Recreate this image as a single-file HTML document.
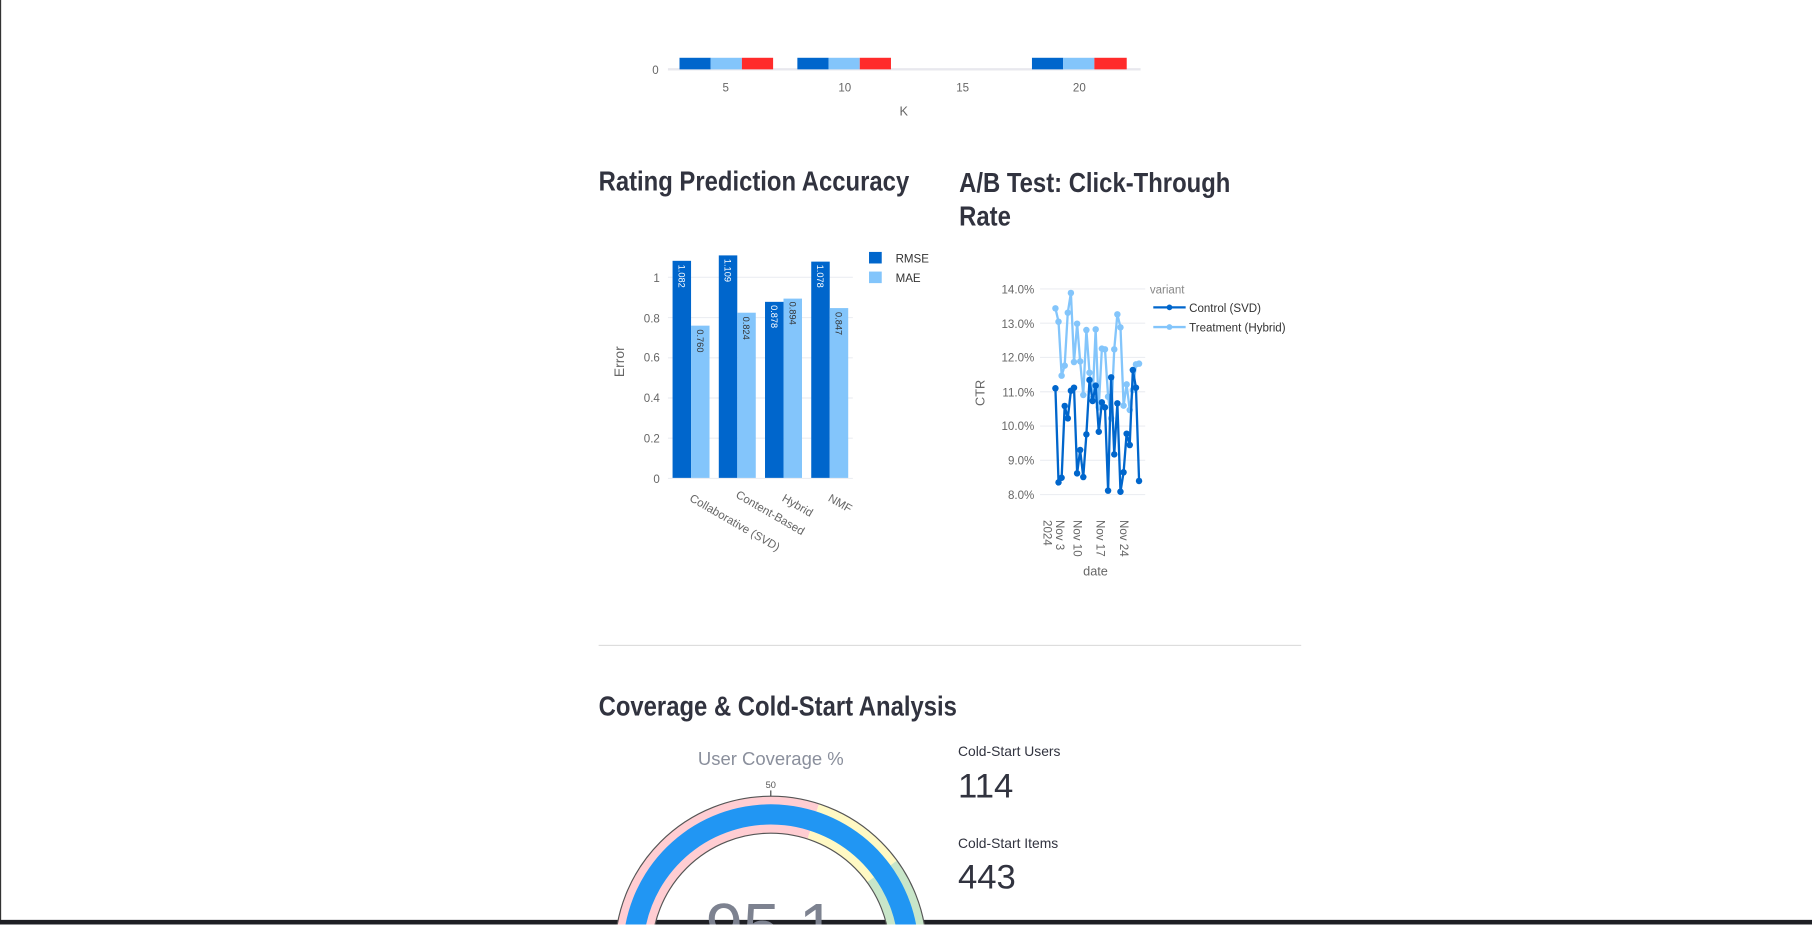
<!DOCTYPE html>
<html><head><meta charset="utf-8"><style>
html,body{margin:0;padding:0;background:#fff;overflow:hidden}
body{width:1812px;height:925px;position:relative}
#w{position:absolute;left:0;top:0;width:1568px;height:800px;transform:scale(1.15561);transform-origin:0 0;font-family:"Liberation Sans",sans-serif}
.t{position:absolute;font-weight:bold;color:#31333f;font-size:24px;white-space:nowrap;transform-origin:0 0;transform:scaleX(0.86)}
svg{position:absolute;left:0;top:0}
</style></head><body><div id="w">
<div style="position:absolute;left:0;top:0;width:1px;height:800px;background:#333"></div>
<div style="position:absolute;left:0;top:796px;width:1568px;height:4px;background:#1e1f24"></div>
<div class="t" style="left:518px;top:144px">Rating Prediction Accuracy</div>
<div class="t" style="left:830px;top:144px;line-height:29px">A/B Test: Click-Through<br>Rate</div>
<div class="t" style="left:518px;top:598px">Coverage &amp; Cold-Start Analysis</div>
<div style="position:absolute;left:518px;top:558px;width:608px;height:1px;background:#ddd"></div>
<div style="position:absolute;left:829px;top:643px;font-size:12px;color:#31333f">Cold-Start Users</div>
<div style="position:absolute;left:829px;top:664px;font-size:30px;color:#31333f">114</div>
<div style="position:absolute;left:829px;top:723px;font-size:12px;color:#31333f">Cold-Start Items</div>
<div style="position:absolute;left:829px;top:743px;font-size:30px;color:#31333f">443</div>
<svg width="1568" height="800" font-family="Liberation Sans, sans-serif">
<!-- top chart -->
<line x1="578" y1="60" x2="987" y2="60" stroke="#e8e8ee" stroke-width="2"/>
<text x="570" y="64" font-size="10" fill="#666" text-anchor="end">0</text>
<g>
<rect x="588" y="50" width="27" height="10" fill="#0066cc"/><rect x="615" y="50" width="27" height="10" fill="#83c5fb"/><rect x="642" y="50" width="27" height="10" fill="#ff2b2b"/>
<rect x="690" y="50" width="27" height="10" fill="#0066cc"/><rect x="717" y="50" width="27" height="10" fill="#83c5fb"/><rect x="744" y="50" width="27" height="10" fill="#ff2b2b"/>
<rect x="893" y="50" width="27" height="10" fill="#0066cc"/><rect x="920" y="50" width="27" height="10" fill="#83c5fb"/><rect x="947" y="50" width="28" height="10" fill="#ff2b2b"/>
</g>
<g font-size="10" fill="#666" text-anchor="middle"><text x="628" y="79">5</text><text x="731" y="79">10</text><text x="833" y="79">15</text><text x="934" y="79">20</text></g>
<text x="782" y="100" font-size="11" fill="#666" text-anchor="middle">K</text>
<!-- bar chart -->
<g stroke="#eceef2"><line x1="578" y1="379.2" x2="738" y2="379.2"/><line x1="578" y1="344.4" x2="738" y2="344.4"/><line x1="578" y1="309.6" x2="738" y2="309.6"/><line x1="578" y1="274.8" x2="738" y2="274.8"/><line x1="578" y1="240" x2="738" y2="240"/></g>
<g font-size="10" fill="#666" text-anchor="end"><text x="571" y="418">0</text><text x="571" y="383">0.2</text><text x="571" y="348">0.4</text><text x="571" y="313">0.6</text><text x="571" y="279">0.8</text><text x="571" y="244">1</text></g>
<text transform="translate(540,313) rotate(-90)" font-size="12" fill="#666" text-anchor="middle">Error</text>
<rect x="582" y="225.7" width="16" height="188.3" fill="#0066cc"/><rect x="598" y="281.8" width="16" height="132.2" fill="#83c5fb"/>
<rect x="622" y="221" width="16" height="193" fill="#0066cc"/><rect x="638" y="270.6" width="16" height="143.4" fill="#83c5fb"/>
<rect x="662" y="261.2" width="16" height="152.8" fill="#0066cc"/><rect x="678" y="258.4" width="16" height="155.6" fill="#83c5fb"/>
<rect x="702" y="226.4" width="16" height="187.6" fill="#0066cc"/><rect x="718" y="266.6" width="16" height="147.4" fill="#83c5fb"/>
<line x1="578" y1="414" x2="738" y2="414" stroke="#eceef2"/>
<g font-size="8">
<text transform="translate(587,229) rotate(90)" fill="#fff">1.082</text>
<text transform="translate(603,285) rotate(90)" fill="#333">0.760</text>
<text transform="translate(627,224) rotate(90)" fill="#fff">1.109</text>
<text transform="translate(643,274) rotate(90)" fill="#333">0.824</text>
<text transform="translate(667,264) rotate(90)" fill="#fff">0.878</text>
<text transform="translate(683,261) rotate(90)" fill="#333">0.894</text>
<text transform="translate(707,229) rotate(90)" fill="#fff">1.078</text>
<text transform="translate(723,270) rotate(90)" fill="#333">0.847</text>
</g>
<g font-size="10" fill="#666">
<text transform="translate(596,433) rotate(30)">Collaborative (SVD)</text>
<text transform="translate(636,430) rotate(30)">Content-Based</text>
<text transform="translate(676,433) rotate(30)">Hybrid</text>
<text transform="translate(716,433) rotate(30)">NMF</text>
</g>
<rect x="752" y="218" width="11" height="10" fill="#0066cc"/><text x="775" y="227" font-size="10" fill="#333">RMSE</text>
<rect x="752" y="235" width="11" height="10" fill="#83c5fb"/><text x="775" y="244" font-size="10" fill="#333">MAE</text>
<!-- line chart -->
<g stroke="#eceef2"><line x1="900" y1="428" x2="991" y2="428"/><line x1="900" y1="398.3" x2="991" y2="398.3"/><line x1="900" y1="368.7" x2="991" y2="368.7"/><line x1="900" y1="339" x2="991" y2="339"/><line x1="900" y1="309.3" x2="991" y2="309.3"/><line x1="900" y1="279.7" x2="991" y2="279.7"/><line x1="900" y1="250" x2="991" y2="250"/></g>
<g font-size="10" fill="#666" text-anchor="end"><text x="895" y="432">8.0%</text><text x="895" y="402">9.0%</text><text x="895" y="372">10.0%</text><text x="895" y="343">11.0%</text><text x="895" y="313">12.0%</text><text x="895" y="284">13.0%</text><text x="895" y="254">14.0%</text></g>
<text transform="translate(852,340) rotate(-90)" font-size="11" fill="#666" text-anchor="middle">CTR</text>
<g font-size="10" fill="#666">
<text transform="translate(903,450) rotate(90)">2024</text>
<text transform="translate(914,450) rotate(90)">Nov 3</text>
<text transform="translate(929,450) rotate(90)">Nov 10</text>
<text transform="translate(949,450) rotate(90)">Nov 17</text>
<text transform="translate(969,450) rotate(90)">Nov 24</text>
</g>
<text x="948" y="498" font-size="11" fill="#666" text-anchor="middle">date</text>
<text x="995" y="254" font-size="10" fill="#888">variant</text>
<line x1="998" y1="266" x2="1026" y2="266" stroke="#0066cc" stroke-width="2"/><circle cx="1012" cy="266" r="2.5" fill="#0066cc"/><text x="1029" y="270" font-size="10" fill="#333">Control (SVD)</text>
<line x1="998" y1="283" x2="1026" y2="283" stroke="#83c5fb" stroke-width="2"/><circle cx="1012" cy="283" r="2.5" fill="#83c5fb"/><text x="1029" y="287" font-size="10" fill="#333">Treatment (Hybrid)</text>
<g id="lines"></g>
<!-- gauge -->
<g transform="translate(667,824)">
<path d="M-135 0 A135 135 0 0 1 0 -135" fill="none" stroke="#ffcdd2" stroke-width="32" transform="scale(0.881)" />
</g>
<g id="gauge"></g>
<text x="667" y="662" font-size="16" fill="#8a8f9c" text-anchor="middle">User Coverage %</text>
<text x="667" y="682" font-size="8" fill="#555" text-anchor="middle">50</text>
<line x1="667" y1="684" x2="667" y2="689" stroke="#444"/>
<text x="667" y="822" font-size="58" fill="#7d8290" text-anchor="middle">95.1</text>
</svg>
</div>
<script>
var T=[266.8,278.4,325.1,316.4,270.6,253.5,313.3,280.1,312.7,341.8,285.6,322.5,344.7,285.0,352.5,301.7,302.3,343.3,362.0,302.3,272.0,283.3,351.0,332.6,354.8,337.5,315.3,314.7];
var C=[336.0,417.4,413.4,351.3,362.0,338.1,335.5,409.6,389.4,412.8,375.9,328.8,347.0,333.7,373.6,348.2,352.5,424.6,326.5,393.2,349.0,425.5,408.7,375.3,385.1,320.2,335.5,416.2];
var NS="http://www.w3.org/2000/svg",g=document.getElementById('lines');
function ser(a,col){var p=a.map(function(y,i){return (913.3+2.68*i).toFixed(1)+','+y}).join(' ');
var pl=document.createElementNS(NS,'polyline');pl.setAttribute('points',p);pl.setAttribute('fill','none');pl.setAttribute('stroke',col);pl.setAttribute('stroke-width','2');g.appendChild(pl);
a.forEach(function(y,i){var c=document.createElementNS(NS,'circle');c.setAttribute('cx',913.3+2.68*i);c.setAttribute('cy',y);c.setAttribute('r','2.8');c.setAttribute('fill',col);g.appendChild(c);});}
ser(T,'#83c5fb');ser(C,'#0066cc');
var gg=document.getElementById('gauge');gg.previousElementSibling.remove();
var cx=667,cy=824;
function arc(r1,r2,v1,v2,col,st){var a1=Math.PI*(1-v1/100),a2=Math.PI*(1-v2/100);
var p='M'+(cx+r2*Math.cos(a1))+' '+(cy-r2*Math.sin(a1))+' A'+r2+' '+r2+' 0 0 1 '+(cx+r2*Math.cos(a2))+' '+(cy-r2*Math.sin(a2))+' L'+(cx+r1*Math.cos(a2))+' '+(cy-r1*Math.sin(a2))+' A'+r1+' '+r1+' 0 0 0 '+(cx+r1*Math.cos(a1))+' '+(cy-r1*Math.sin(a1))+'Z';
var e=document.createElementNS(NS,'path');e.setAttribute('d',p);e.setAttribute('fill',col);if(st){e.setAttribute('stroke',st);e.setAttribute('stroke-width','1');}gg.appendChild(e);}
arc(103,135,0,60,'#ffcdd2');arc(103,135,60,80,'#fff9c4');arc(103,135,80,100,'#c8e6c9');
arc(103,135,0,100,'none','#555');
arc(110.5,128,0,95.1,'#2196f3');
</script>
</body></html>
